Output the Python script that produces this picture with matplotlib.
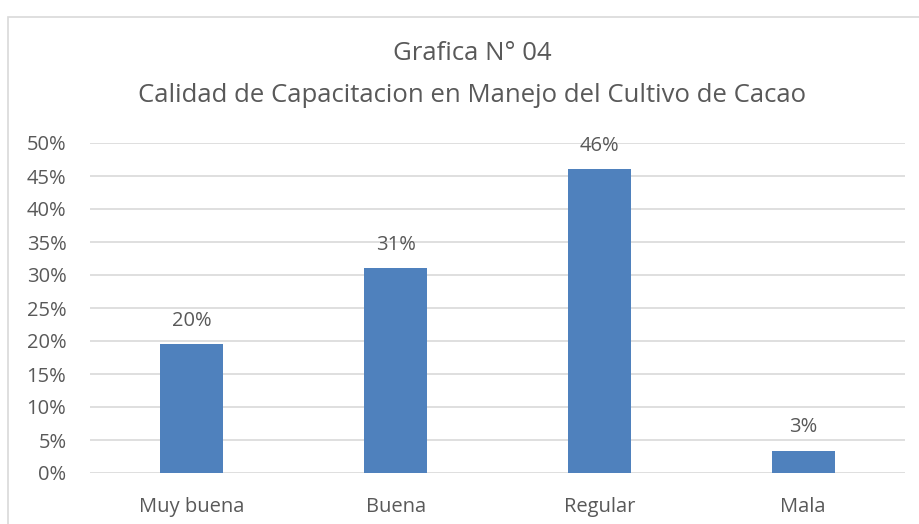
import matplotlib
matplotlib.use('Agg')
import matplotlib.pyplot as plt
from matplotlib.patches import Rectangle
from matplotlib.ticker import PercentFormatter

categories = ['Muy buena', 'Buena', 'Regular', 'Mala']
values = [19.5, 31.1, 46.0, 3.4]
labels = ['20%', '31%', '46%', '3%']

plt.rcParams['font.family'] = ['Open Sans', 'DejaVu Sans']
txt = '#595959'

fig = plt.figure(figsize=(9.2, 5.24), dpi=100)
ax = fig.add_axes([90/920, 51/524, 815/920, 330/524])

x = range(len(categories))
bars = ax.bar(x, values, width=0.31, color='#4F81BD', zorder=3)
for b, lab in zip(bars, labels):
    ax.text(b.get_x() + b.get_width()/2, b.get_height() + 2.0, lab,
            ha='center', va='bottom', fontsize=14.5, color=txt)

ax.set_xlim(-0.5, 3.5)
ax.set_ylim(0, 50)
ax.set_yticks(range(0, 51, 5))
ax.yaxis.set_major_formatter(PercentFormatter(decimals=0))
ax.set_xticks(list(x))
ax.set_xticklabels(categories)
ax.tick_params(length=0, labelsize=14.5, colors=txt)
ax.tick_params(axis='x', pad=17)
ax.tick_params(axis='y', pad=17)
ax.grid(axis='y', color='#D9D9D9', linewidth=1.2, zorder=0)
for s in ax.spines.values():
    s.set_visible(False)

fig.text(472/920, 1 - 53/524, 'Grafica N° 04', ha='center', va='center', fontsize=18.5, color=txt)
fig.text(472/920, 1 - 95/524, 'Calidad de Capacitacion en Manejo del Cultivo de Cacao',
         ha='center', va='center', fontsize=18.5, color=txt)

fig.patches.append(Rectangle((8/920, -0.5), 2, 1.5 - 17/524, transform=fig.transFigure,
                             fill=False, edgecolor='#D9D9D9', linewidth=1.2))

fig.savefig('out.png', dpi=100)
